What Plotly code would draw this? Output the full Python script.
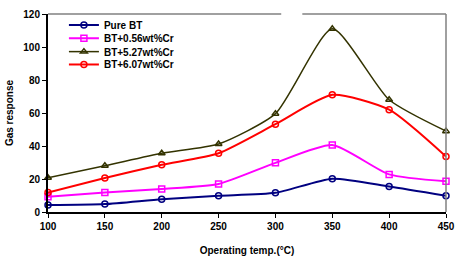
import plotly.graph_objects as go

temps = [100, 150, 200, 250, 300, 350, 400, 450]
pure_bt = [4.2, 4.8, 7.8, 9.8, 11.6, 20.2, 15.4, 9.8]
bt_056 = [9.2, 11.8, 14.0, 17.0, 29.8, 40.6, 22.8, 18.6]
bt_527 = [20.8, 28.0, 35.6, 41.2, 59.6, 111.0, 68.0, 49.0]
bt_607 = [11.8, 20.6, 28.6, 35.6, 53.2, 71.0, 62.0, 33.6]

series = [
    ("Pure BT", pure_bt, "#000080", "circle-open", 2),
    ("BT+0.56wt%Cr", bt_056, "#FF00FF", "square-open", 2),
    ("BT+5.27wt%Cr", bt_527, "#333300", "triangle-up-open", 1.5),
    ("BT+6.07wt%Cr", bt_607, "#FF0000", "circle-open", 2),
]
legend_ids = ["legend", "legend2", "legend3", "legend4"]
legend_rows = [0.945, 0.877, 0.81, 0.745]

FONT = "Liberation Sans, Arial, sans-serif"

fig = go.Figure()
for (name, vals, color, sym, lw), lid in zip(series, legend_ids):
    fig.add_trace(go.Scatter(
        x=temps, y=vals, name=name, mode="lines+markers",
        line=dict(color=color, width=lw, shape="spline", smoothing=0.6),
        marker=dict(symbol=sym, size=6, color=color, line=dict(width=1.5, color=color)),
        cliponaxis=False, legend=lid,
    ))

legend_common = dict(
    x=0.04, xanchor="left", yanchor="middle",
    bgcolor="rgba(0,0,0,0)", borderwidth=0,
    font=dict(family=FONT, size=10, color="black", weight="bold"),
    itemwidth=30,
)
legends = {}
for lid, yv in zip(legend_ids, legend_rows):
    legends[lid] = dict(legend_common, y=yv)

fig.update_layout(
    width=456, height=256,
    margin=dict(l=48, r=10, t=12, b=44),
    paper_bgcolor="white", plot_bgcolor="white",
    font=dict(family=FONT, size=10, color="black"),
    showlegend=True,
    **legends,
    xaxis=dict(
        range=[100, 450], tickmode="array", tickvals=temps,
        showgrid=False, zeroline=False, automargin=False,
        showline=True, linecolor="black", linewidth=2,
        ticks="outside", ticklen=4, tickwidth=1, tickcolor="black",
        tickfont=dict(family=FONT, size=10, weight="bold"),
        title=dict(text="Operating temp.(°C)", font=dict(family=FONT, size=10, weight="bold"), standoff=16),
    ),
    yaxis=dict(
        range=[0, 120], tickmode="array", tickvals=[0, 20, 40, 60, 80, 100, 120],
        showgrid=False, zeroline=False, automargin=False,
        showline=True, linecolor="black", linewidth=2,
        ticks="outside", ticklen=4, tickwidth=1, tickcolor="black",
        tickfont=dict(family=FONT, size=10, weight="bold"),
        title=dict(text="Gas response", font=dict(family=FONT, size=10, weight="bold"), standoff=8),
    ),
    shapes=[
        dict(type="line", xref="paper", yref="paper", x0=0, x1=0.586, y0=1, y1=1,
             line=dict(color="#808080", width=1.5)),
        dict(type="line", xref="paper", yref="paper", x0=0.639, x1=1, y0=1, y1=1,
             line=dict(color="#808080", width=1.5)),
        dict(type="line", xref="paper", yref="paper", x0=1, x1=1, y0=0, y1=1,
             line=dict(color="#808080", width=1.5)),
    ],
)

fig.write_html("out.html")
